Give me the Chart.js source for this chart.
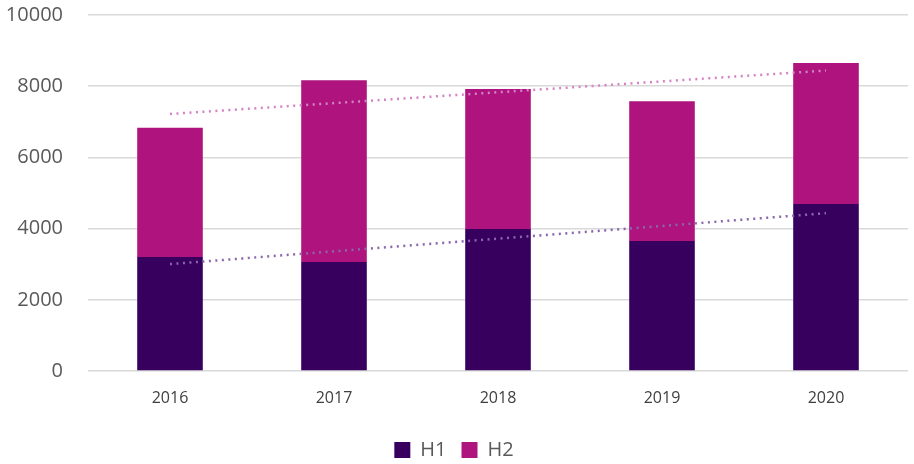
<!DOCTYPE html>
<html>
<head>
<meta charset="utf-8">
<script src="https://cdn.jsdelivr.net/npm/chart.js@4/dist/chart.umd.min.js"></script>
<style>
    html, body { margin: 0; padding: 0; background: #fff; }
    #wrap { width: 914px; height: 464px; }
</style>
</head>
<body>
<div id="wrap"><canvas id="halfChart"></canvas></div>
<script>
// Values
const years = ['2016', '2017', '2018', '2019', '2020'];
const h1Values = [3200, 3060, 3990, 3650, 4690];
const h2Values = [3630, 5110, 3930, 3930, 3960];
const yTicks = [0, 2000, 4000, 6000, 8000, 10000];

// Linear trend (least squares) over category index, like the spreadsheet trendline
const trendOf = values => {
    const n = values.length;
    const mx = (n - 1) / 2;
    const my = values.reduce((a, b) => a + b, 0) / n;
    let num = 0, den = 0;
    values.forEach((v, i) => { num += (i - mx) * (v - my); den += (i - mx) * (i - mx); });
    const slope = num / den;
    return values.map((v, i) => my + slope * (i - mx));
};
const totals = h1Values.map((v, i) => v + h2Values[i]);

const FONT = '"Open Sans", "Liberation Sans", sans-serif';

document.addEventListener('DOMContentLoaded', function() {
    const ctx = document.getElementById('halfChart').getContext('2d');

    new Chart(ctx, {
        type: 'bar',
        data: {
            labels: years,
            datasets: [{
                label: 'H1',
                data: h1Values,
                backgroundColor: '#37005f',
                stack: 'half',
                order: 2
            },
            {
                label: 'H2',
                data: h2Values,
                backgroundColor: '#ae137e',
                stack: 'half',
                order: 2
            },
            {
                type: 'line',
                label: 'trendTotal',
                data: trendOf(totals),
                stack: 'trendA',
                borderColor: '#d383c6',
                borderWidth: 2.5,
                borderDash: [2, 4.5],
                pointRadius: 0,
                fill: false,
                order: 1
            },
            {
                type: 'line',
                label: 'trendH1',
                data: trendOf(h1Values),
                stack: 'trendB',
                borderColor: '#8a66ac',
                borderWidth: 2.5,
                borderDash: [2, 4.5],
                pointRadius: 0,
                fill: false,
                order: 1
            }]
        },
        options: {
            responsive: true,
            maintainAspectRatio: false,
            animation: false,
            layout: {
                padding: { top: 15, right: 6, left: 0, bottom: -6 }
            },
            datasets: {
                bar: { barPercentage: 0.4, categoryPercentage: 1 }
            },
            plugins: {
                tooltip: { enabled: false },
                legend: {
                    position: 'bottom',
                    labels: {
                        padding: 15,
                        boxWidth: 16,
                        boxHeight: 16,
                        color: '#595959',
                        font: { family: FONT, size: 20 },
                        filter: item => item.text === 'H1' || item.text === 'H2'
                    }
                }
            },
            scales: {
                x: {
                    stacked: true,
                    grid: { display: false, drawTicks: false },
                    border: { display: false },
                    ticks: {
                        padding: 18,
                        color: '#404040',
                        font: { family: FONT, size: 16 }
                    },
                    afterFit: axis => { axis.height = 54; }
                },
                y: {
                    stacked: true,
                    min: 0,
                    max: 10000,
                    afterBuildTicks: axis => { axis.ticks = yTicks.map(v => ({ value: v })); },
                    grid: {
                        color: '#d9d9d9',
                        lineWidth: 1.5,
                        drawTicks: false
                    },
                    border: { display: false },
                    ticks: {
                        padding: 25,
                        color: '#595959',
                        font: { family: FONT, size: 20 },
                        callback: v => String(v)
                    },
                    afterFit: axis => {
                        axis.width = 88;
                        axis.paddingTop = 0;
                        axis.paddingBottom = 0;
                    }
                }
            }
        }
    });
});
</script>
</body>
</html>
